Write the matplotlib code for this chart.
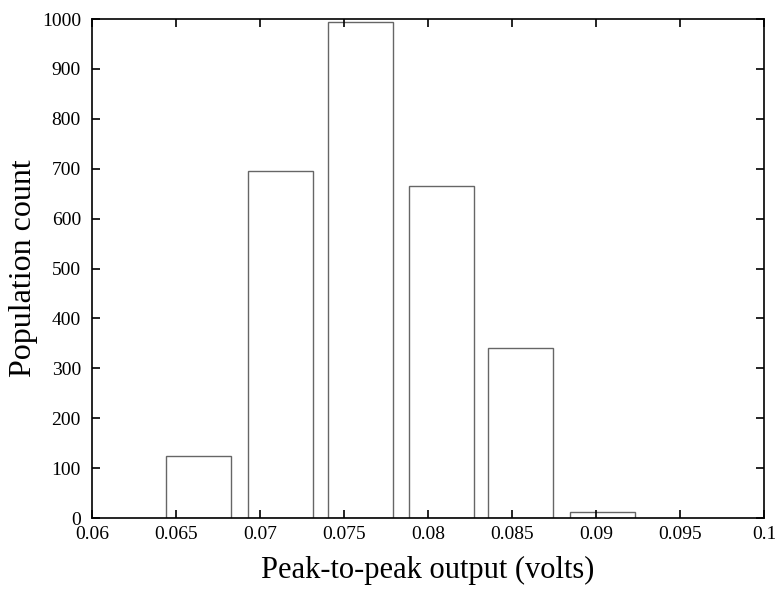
import matplotlib
matplotlib.use('Agg')
import matplotlib.pyplot as plt

# histogram bins
bin_centers = [0.06634, 0.07122, 0.07598, 0.08080, 0.08551, 0.09039]
counts = [125, 695, 995, 665, 340, 12]
bar_width = 0.00387

x_ticks = [0.06, 0.065, 0.07, 0.075, 0.08, 0.085, 0.09, 0.095, 0.1]
x_tick_labels = ["0.06", "0.065", "0.07", "0.075", "0.08", "0.085", "0.09", "0.095", "0.1"]
y_ticks = list(range(0, 1001, 100))

plt.rcParams['font.family'] = ['Liberation Serif', 'DejaVu Serif']

fig = plt.figure(figsize=(7.75, 6.16), dpi=100)
ax = fig.add_axes([0.1187, 0.159, 0.8671, 0.810])

ax.bar(bin_centers, counts, width=bar_width, facecolor="white",
       edgecolor="#666666", linewidth=1.0)

ax.set_xlim(0.06, 0.1)
ax.set_ylim(0, 1000)
ax.set_xticks(x_ticks)
ax.set_xticklabels(x_tick_labels)
ax.set_yticks(y_ticks)
ax.tick_params(direction="in", top=True, right=True, length=6, width=1.2,
               labelsize=14)
ax.tick_params(axis="x", pad=6)
ax.tick_params(axis="y", pad=8)
for side in ax.spines.values():
    side.set_linewidth(1.2)

ax.set_xlabel("Peak-to-peak output (volts)", fontsize=22, labelpad=9)
ax.set_ylabel("Population count", fontsize=23, labelpad=3)

fig.savefig("out.png", dpi=100)
